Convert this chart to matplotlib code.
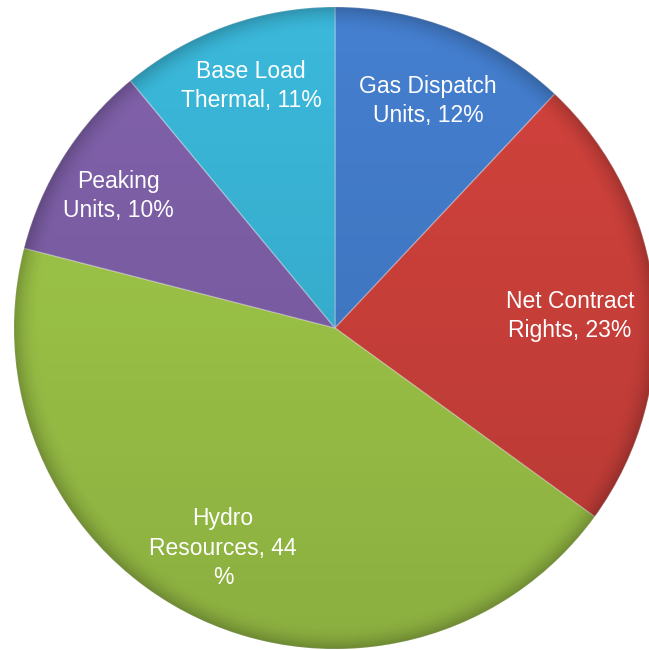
import numpy as np
import matplotlib
matplotlib.use("Agg")
import matplotlib.pyplot as plt
from matplotlib.patches import Circle

# slice data, clockwise from 12 o'clock
labels = ["Gas Dispatch\nUnits, 12%", "Net Contract\nRights, 23%",
          "Hydro\nResources, 44\n%", "Peaking\nUnits, 10%",
          "Base Load\nThermal, 11%"]
values = [12, 23, 44, 10, 11]
colors = ["#4682d4", "#d8443e", "#a6d04c", "#8464b0", "#3cbde0"]

# label anchor points in pixel coords (x, y from top)
label_xy = [(428, 101), (570, 316), (223, 548), (118, 196), (251, 86)]

W, H = 649, 650
cx, cy, R = 335, H - 328, 321

plt.rcParams['font.family'] = ['Liberation Sans', 'DejaVu Sans']

fig = plt.figure(figsize=(W / 100, H / 100), dpi=100)
ax = fig.add_axes([0, 0, 1, 1])

wedges, _ = ax.pie(values, colors=colors, startangle=90, counterclock=False,
                   center=(cx, cy), radius=R, frame=True,
                   wedgeprops=dict(edgecolor=(1, 1, 1, 0.3), linewidth=1.0))
ax.set_xlim(0, W)
ax.set_ylim(0, H)
ax.set_aspect('equal')
ax.axis('off')

# shading overlay: a bit darker towards the bottom and at the rim
yy, xx = np.mgrid[0:H, 0:W]
yy = H - yy
r = np.hypot(xx - cx, yy - cy) / R
shade = 0.02 + 0.14 * (1 - yy / H)
rim = np.clip((r - 0.92) / 0.08, 0, 1) ** 2 * 0.2
alpha = np.clip(shade + rim, 0, 1)
img = np.zeros((H, W, 4))
img[..., 3] = alpha
im = ax.imshow(img, extent=(0, W, 0, H), origin='upper', zorder=3)
im.set_clip_path(Circle((cx, cy), R, transform=ax.transData))

for text, (x, y) in zip(labels, label_xy):
    ax.text(x, H - y, text, color='white', fontsize=16.5, ha='center',
            va='center', linespacing=1.35, zorder=5)

fig.savefig("out.png", dpi=100)
